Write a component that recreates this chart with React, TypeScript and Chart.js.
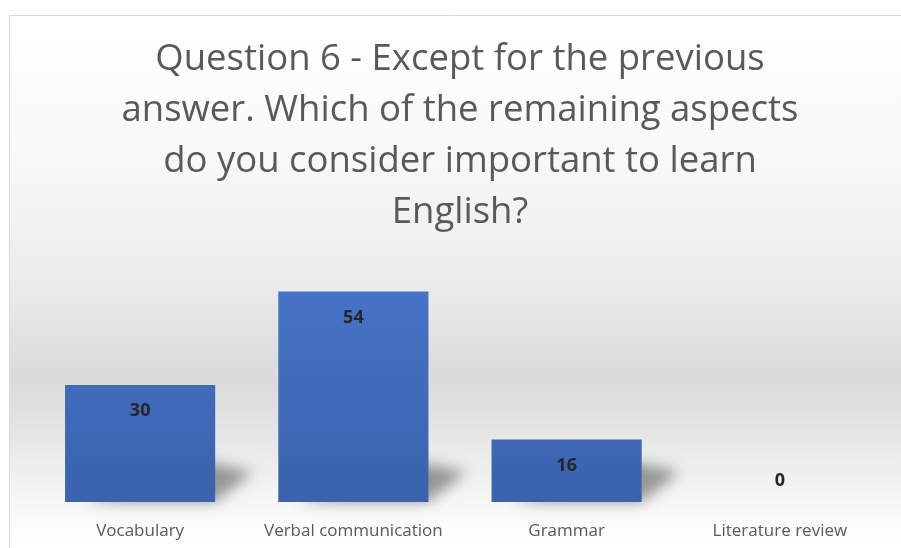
import React, { useEffect, useRef } from "react";
import { Chart, registerables } from "chart.js";

Chart.register(...registerables);

const categories = ["Vocabulary", "Verbal communication", "Grammar", "Literature review"];
const values = [30, 54, 16, 0];
const titleLines = [
  "Question 6 - Except for the previous",
  "answer. Which of the remaining aspects",
  "do you consider important to learn",
  "English?",
];

const backgroundPlugin = {
  id: "bgPlugin",
  beforeDraw(chart: any) {
    const ctx = chart.ctx;
    const top = 15;
    const left = 9;
    const g = ctx.createLinearGradient(0, top, 0, 548);
    g.addColorStop(0, "#ffffff");
    g.addColorStop(0.25, "#f9f9f9");
    g.addColorStop(0.5, "#ececec");
    g.addColorStop(0.68, "#dadada");
    g.addColorStop(0.74, "#e0e0e0");
    g.addColorStop(0.95, "#fbfbfb");
    g.addColorStop(1, "#ffffff");
    ctx.save();
    ctx.fillStyle = "#ffffff";
    ctx.fillRect(0, 0, chart.width, chart.height);
    ctx.fillStyle = g;
    ctx.fillRect(left, top, chart.width - left, chart.height - top);
    ctx.strokeStyle = "#d9d9d9";
    ctx.lineWidth = 1;
    ctx.beginPath();
    ctx.moveTo(left + 0.5, chart.height);
    ctx.lineTo(left + 0.5, top + 0.5);
    ctx.lineTo(chart.width, top + 0.5);
    ctx.stroke();
    ctx.restore();
  },
};

const shadowPlugin = {
  id: "shadowPlugin",
  beforeDatasetsDraw(chart: any) {
    const ctx = chart.ctx;
    const meta = chart.getDatasetMeta(0);
    ctx.save();
    ctx.filter = "blur(7px)";
    ctx.fillStyle = "rgba(0,0,0,0.38)";
    meta.data.forEach((bar: any, i: number) => {
      if (!values[i]) return;
      const p = bar.getProps(["x", "y", "base", "width"], true);
      const l = p.x - p.width / 2;
      const r = p.x + p.width / 2;
      const b = p.base;
      ctx.beginPath();
      ctx.moveTo(l + 20, b);
      ctx.lineTo(r, b);
      ctx.lineTo(r + 38, b - 30);
      ctx.lineTo(r - 10, b - 40);
      ctx.closePath();
      ctx.fill();
    });
    ctx.restore();
  },
};

const labelPlugin = {
  id: "labelPlugin",
  afterDatasetsDraw(chart: any) {
    const ctx = chart.ctx;
    const meta = chart.getDatasetMeta(0);
    ctx.save();
    ctx.font = "bold 18px 'Open Sans'";
    ctx.fillStyle = "#262626";
    ctx.textAlign = "center";
    ctx.textBaseline = "middle";
    meta.data.forEach((bar: any, i: number) => {
      const p = bar.getProps(["x", "y", "base"], true);
      const y = values[i] > 0 ? p.y + 26 : p.base - 21;
      ctx.fillText(String(values[i]), p.x, y);
    });
    ctx.restore();
  },
};

export default function App() {
  const ref = useRef<HTMLCanvasElement | null>(null);
  useEffect(() => {
    if (!ref.current) return;
    const chart = new Chart(ref.current, {
      type: "bar",
      data: {
        labels: categories,
        datasets: [
          {
            data: values,
            backgroundColor: (c: any) => {
              const area = c.chart.chartArea;
              if (!area) return "#4472c4";
              const g = c.chart.ctx.createLinearGradient(0, area.top, 0, area.bottom);
              g.addColorStop(0, "#4775c8");
              g.addColorStop(1, "#3a62ad");
              return g;
            },
            borderWidth: 0,
            barPercentage: 0.704,
            categoryPercentage: 1,
          },
        ],
      },
      options: {
        animation: false,
        responsive: false,
        devicePixelRatio: 1,
        layout: { padding: { left: 33.5, right: 14.5, top: 0, bottom: 0 } },
        plugins: {
          legend: { display: false },
          tooltip: { enabled: false },
          title: {
            display: true,
            text: titleLines,
            color: "#595959",
            font: { family: "'Open Sans'", size: 36.5, weight: "normal", lineHeight: 51 / 36.5 },
            padding: { top: 34.5, bottom: 29.5 },
          },
        },
        scales: {
          x: {
            grid: { display: false, drawTicks: false },
            border: { display: false },
            ticks: {
              color: "#595959",
              font: { family: "'Open Sans'", size: 17, lineHeight: 1.2 },
              padding: 18.8,
              maxRotation: 0,
              autoSkip: false,
            },
            afterFit: (s: any) => {
              s.height = 46;
            },
          },
          y: {
            display: false,
            min: 0,
            max: 60,
          },
        },
      },
      plugins: [backgroundPlugin, shadowPlugin, labelPlugin],
    });
    return () => chart.destroy();
  }, []);
  return (
    <div style={{ position: "fixed", left: 0, top: 0, width: 901, height: 548 }}>
      <canvas ref={ref} width={901} height={548} style={{ display: "block" }} />
    </div>
  );
}
